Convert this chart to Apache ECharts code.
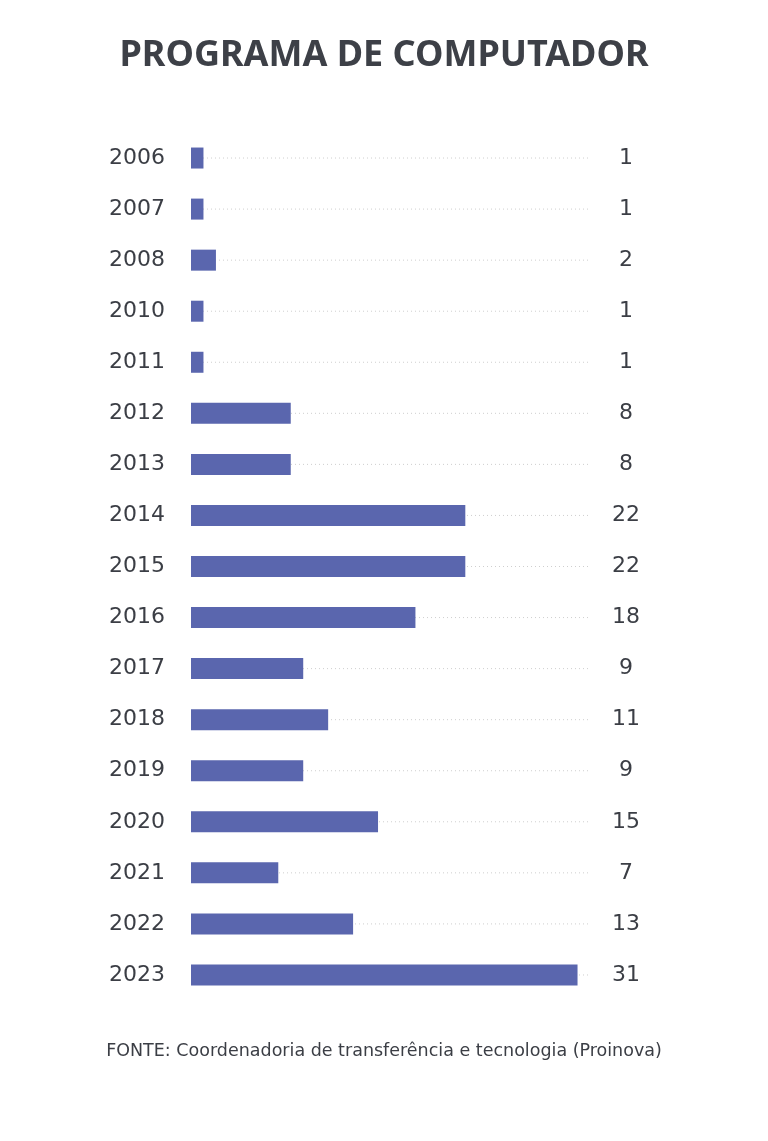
<!DOCTYPE html>
<html><head><meta charset="utf-8">
<script src="https://cdn.jsdelivr.net/npm/echarts@6/dist/echarts.min.js"></script>
<style>html,body{margin:0;padding:0;background:#fff}#c{width:768px;height:1141px}</style>
</head><body><div id="c"></div>
<script>
const years = ['2006','2007','2008','2010','2011','2012','2013','2014','2015','2016','2017','2018','2019','2020','2021','2022','2023'];
const counts = [1,1,2,1,1,8,8,22,22,18,9,11,9,15,7,13,31];
const titleText = 'PROGRAMA DE COMPUTADOR';
const sourceText = 'FONTE: Coordenadoria de transferência e tecnologia (Proinova)';
const axisMax = 32;

const chart = echarts.init(document.getElementById('c'));
const textColor = '#3b3e45';
chart.setOption({
  backgroundColor: '#fff',
  animation: false,
  title: [{
    text: titleText, left: 'center', top: 33,
    textStyle: {fontFamily: 'Noto Sans', fontWeight: 'bold', fontSize: 36, color: '#3d4047'}
  },{
    text: sourceText, left: 'center', top: 1037,
    textStyle: {fontFamily: 'DejaVu Sans', fontWeight: 'normal', fontSize: 17.5, color: '#3b3e45'}
  }],
  grid: {left: 191, right: 178, top: 132.5, bottom: 140.5, containLabel: false},
  xAxis: {type: 'value', min: 0, max: axisMax, show: false},
  yAxis: [{
    type: 'category', data: years, inverse: true,
    axisLine: {show: false}, axisTick: {show: false}, splitLine: {show: false},
    axisLabel: {margin: 26, fontFamily: 'DejaVu Sans', fontSize: 22, color: textColor}
  },{
    type: 'category', data: counts.map(String), inverse: true, position: 'right',
    axisLine: {show: false}, axisTick: {show: false}, splitLine: {show: false},
    axisLabel: {margin: 36, align: 'center', fontFamily: 'DejaVu Sans', fontSize: 22, color: textColor}
  }],
  series: [{
    type: 'custom', z: 1,
    data: years.map((y, i) => [i]),
    encode: {y: 0},
    renderItem: function (params, api) {
      const idx = api.value(0);
      const a = api.coord([0, idx]);
      const b = api.coord([axisMax, idx]);
      return {type: 'line', shape: {x1: a[0], y1: a[1], x2: b[0], y2: b[1]},
        style: {stroke: '#cfcfcf', lineWidth: 1, lineDash: [1, 3]}};
    }
  },{
    type: 'bar', z: 2, data: counts, barWidth: 21,
    itemStyle: {color: '#5a66ae'}
  }]
});
</script></body></html>
